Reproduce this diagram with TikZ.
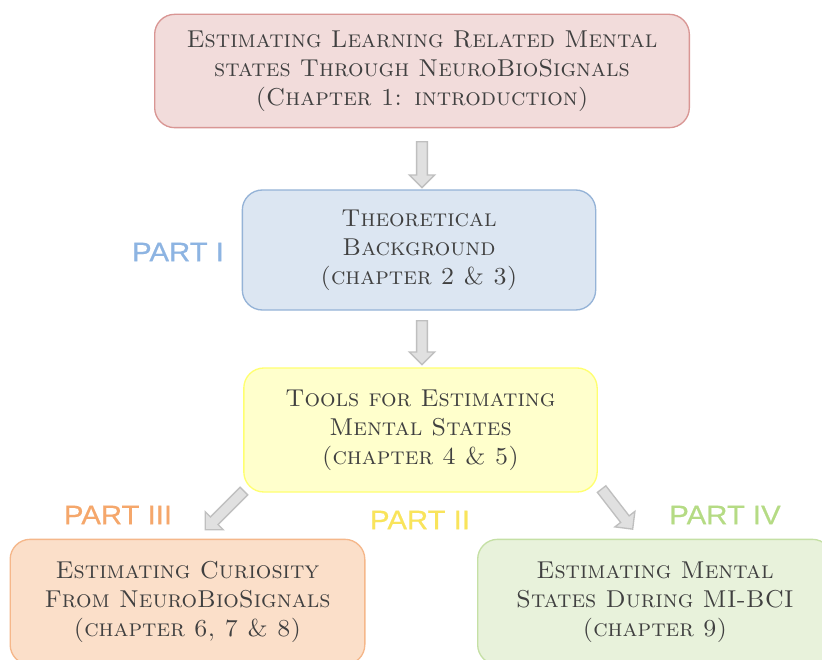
\documentclass[tikz,border=0pt]{standalone}
\usepackage{fontspec}
\usetikzlibrary{shapes.arrows}
\newfontfamily\partfont[FakeStretch=1.1,FakeBold=0.6]{Liberation Sans}
\definecolor{txt}{HTML}{404040}
\definecolor{pinkfill}{HTML}{F2DCDB}\definecolor{pinkdraw}{HTML}{D99694}
\definecolor{bluefill}{HTML}{DCE6F2}\definecolor{bluedraw}{HTML}{95B3D7}
\definecolor{yelfill}{HTML}{FFFFCC}\definecolor{yeldraw}{HTML}{FFFF70}
\definecolor{orfill}{HTML}{FBDFC9}\definecolor{ordraw}{HTML}{F5B78A}
\definecolor{grfill}{HTML}{E8F2DB}\definecolor{grdraw}{HTML}{C5E0A5}
\definecolor{arrfill}{HTML}{E0E0E0}\definecolor{arrdraw}{HTML}{BFBFBF}
\definecolor{p1}{HTML}{8DB4E2}\definecolor{p2}{HTML}{F9E45B}
\definecolor{p3}{HTML}{F5A76B}\definecolor{p4}{HTML}{B5DB84}
\tikzset{
  box/.style={rectangle, rounded corners=15pt, line width=1pt, align=center,
    text=txt, font=\fontsize{18.3}{21.75}\selectfont\scshape, inner sep=0pt},
  partlabel/.style={font=\partfont\fontsize{20}{23}\selectfont, inner sep=0pt},
  blockarr/.style={single arrow, draw=arrdraw, fill=arrfill, line width=1pt,
    minimum width=19pt, single arrow head extend=4.5pt, single arrow tip angle=90,
    inner sep=2.8pt, allow upside down},
}
\begin{document}
\begin{tikzpicture}[x=0.75pt,y=-0.75pt]
\clip (0,0) rectangle (822,660);
\fill[white] (0,0) rectangle (822,660);
\node[box, fill=pinkfill, draw=pinkdraw, minimum width=401pt, minimum height=85pt] (b1) at (422,71)
  {Estimating Learning Related Mental\\states Through NeuroBioSignals\\(Chapter 1: introduction)};
\node[box, fill=bluefill, draw=bluedraw, minimum width=265pt, minimum height=90pt] (b2) at (419,250)
  {Theoretical\\Background\\(chapter 2 \& 3)};
\node[box, fill=yelfill, draw=yeldraw, minimum width=265pt, minimum height=93pt] (b3) at (420.5,430)
  {Tools for Estimating\\Mental States\\(chapter 4 \& 5)};
\node[box, fill=orfill, draw=ordraw, minimum width=266pt, minimum height=94pt] (b4) at (187.5,602)
  {Estimating Curiosity\\From NeuroBioSignals\\(chapter 6, 7 \& 8)};
\node[box, fill=grfill, draw=grdraw, minimum width=266pt, minimum height=94pt] (b5) at (655,602)
  {Estimating Mental\\States During MI-BCI\\(chapter 9)};
\node[partlabel, text=p1] (l1) at (178,252) {PART I};
\node[partlabel, text=p2] (l2) at (420,520) {PART II};
\node[partlabel, text=p3] (l3) at (118,515) {PART III};
\node[partlabel, text=p4] (l4) at (725,515) {PART IV};
\coordinate (a1s) at (422,139); \coordinate (a1t) at (422,185);
\coordinate (a2s) at (422,318); \coordinate (a2t) at (422,362);
\coordinate (a3s) at (246,489); \coordinate (a3t) at (207,528);
\coordinate (a4s) at (600,487); \coordinate (a4t) at (631,527);
\path (a1s) -- (a1t) node[midway, sloped, blockarr, minimum height=34.5pt] {};
\path (a2s) -- (a2t) node[midway, sloped, blockarr, minimum height=33pt] {};
\path (a3s) -- (a3t) node[midway, sloped, blockarr, minimum height=41pt] {};
\path (a4s) -- (a4t) node[midway, sloped, blockarr, minimum height=38pt] {};
\end{tikzpicture}
\end{document}
